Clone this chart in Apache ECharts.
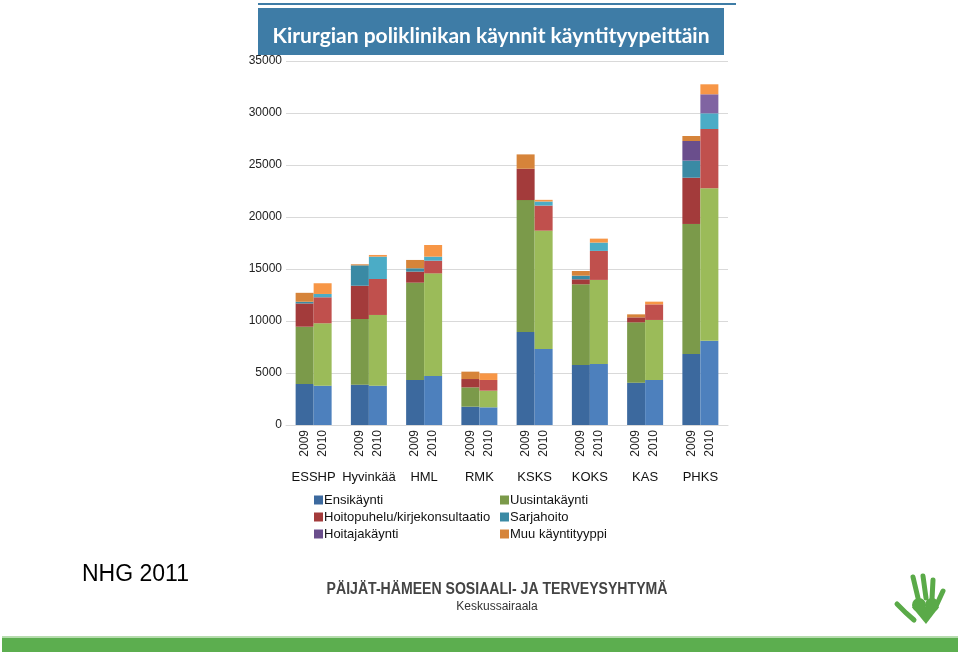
<!DOCTYPE html>
<html><head><meta charset="utf-8">
<script src="https://cdn.jsdelivr.net/npm/echarts@6/dist/echarts.min.js"></script>
<style>html,body{margin:0;padding:0;background:#fff}#c{width:960px;height:654px}</style>
</head><body><div id="c"></div><script>
const groups = ['ESSHP','Hyvinkää','HML','RMK','KSKS','KOKS','KAS','PHKS'];
const years = ['2009','2010'];
const types = ['Ensikäynti','Uusintakäynti','Hoitopuhelu/kirjekonsultaatio','Sarjahoito','Hoitajakäynti','Muu käyntityyppi'];
const yTicks = [0,5000,10000,15000,20000,25000,30000,35000];

const ensi2009    = [3940,3880,4330,1760,8940,5770,4070,6830];
const ensi2010    = [3780,3780,4710,1700,7310,5870,4330,8110];
const uusinta2009 = [5510,6310,9360,1860,12690,7760,5800,12500];
const uusinta2010 = [6000,6800,9870,1600,11380,8080,5770,14650];
const hoito2009   = [2240,3200,1060,800,3010,480,480,4450];
const hoito2010   = [2500,3460,1220,1030,2410,2790,1500,5700];
const sarja2009   = [160,1960,320,0,0,350,0,1640];
const sarja2010   = [320,2150,390,0,390,800,0,1510];
const hoitaja2009 = [0,0,0,0,0,0,0,1890];
const hoitaja2010 = [0,0,0,0,0,0,0,1830];
const muu2009     = [860,100,800,710,1380,450,290,480];
const muu2010     = [1030,160,1120,640,160,380,260,960];

const values = {
  '2009': [ensi2009, uusinta2009, hoito2009, sarja2009, hoitaja2009, muu2009],
  '2010': [ensi2010, uusinta2010, hoito2010, sarja2010, hoitaja2010, muu2010]
};
const colors = {
  '2009': ['#3c699e','#7b9a4a','#a33b3b','#3a8aa4','#6a4e8c','#d6843a'],
  '2010': ['#4d80bd','#9bbb59','#c0504d','#4bacc6','#8064a2','#f79646']
};
const FONT = "'Liberation Sans',Arial,sans-serif";

const series = [];
years.forEach(yr => {
  types.forEach((t, i) => {
    const s = {
      name: t, type: 'bar', stack: yr, barWidth: 18, barGap: '0%',
      data: values[yr][i],
      itemStyle: { color: colors[yr][i] },
      emphasis: { disabled: true }
    };
    if (i === 0) {
      s.label = { show: true, position: 'bottom', distance: 5, rotate: 90,
        align: 'right', verticalAlign: 'middle', formatter: yr,
        fontFamily: FONT, fontSize: 12, color: '#222' };
    }
    series.push(s);
  });
});

const legendBase = {
  orient: 'vertical', top: 487, itemWidth: 9, itemHeight: 9, itemGap: 1,
  icon: 'rect', selectedMode: false,
  textStyle: { fontFamily: FONT, fontSize: 13, lineHeight: 16, color: '#111', padding: [0,0,0,-4] }
};

const chart = echarts.init(document.getElementById('c'));
chart.setOption({
  animation: false,
  backgroundColor: '#fff',
  grid: { left: 286, width: 442, top: 61, height: 364 },
  xAxis: {
    type: 'category', data: groups,
    axisLine: { lineStyle: { color: '#d9d9d9' } },
    axisTick: { show: false },
    axisLabel: { interval: 0, margin: 46, fontFamily: FONT, fontSize: 13, color: '#111' }
  },
  yAxis: {
    type: 'value', min: 0, max: 35000, interval: 5000,
    axisLabel: { margin: 4, fontFamily: FONT, fontSize: 12, color: '#222',
      formatter: v => yTicks.includes(v) ? String(v) : '' },
    splitLine: { lineStyle: { color: '#d9d9d9' } },
    axisLine: { show: false }, axisTick: { show: false }
  },
  legend: [
    Object.assign({}, legendBase, { data: [types[0], types[2], types[4]], left: 309 }),
    Object.assign({}, legendBase, { data: [types[1], types[3], types[5]], left: 495 })
  ],
  series: series,
  graphic: [
    { type: 'rect', shape: { x: 258, y: 3, width: 478, height: 2 }, style: { fill: '#3e7ca6' } },
    { type: 'rect', shape: { x: 258, y: 8, width: 466, height: 47 }, style: { fill: '#3e7ca6' } },
    { type: 'text', x: 491, y: 36, style: { text: 'Kirurgian poliklinikan käynnit käyntityypeittäin',
      fill: '#fff', font: "bold 21px Lato, 'Open Sans', sans-serif", textAlign: 'center', textVerticalAlign: 'middle' } },
    { type: 'text', x: 82, y: 575, style: { text: 'NHG 2011', fill: '#000',
      font: "23px " + FONT, textAlign: 'left', textVerticalAlign: 'middle' } },
    { type: 'text', x: 497, y: 590, scaleX: 0.88,
      style: { text: 'PÄIJÄT-HÄMEEN SOSIAALI- JA TERVEYSYHTYMÄ', fill: '#444',
      font: "bold 16px " + FONT, textAlign: 'center', textVerticalAlign: 'middle' } },
    { type: 'text', x: 497, y: 607, style: { text: 'Keskussairaala', fill: '#333',
      font: "12px " + FONT, textAlign: 'center', textVerticalAlign: 'middle' } },
    { type: 'rect', shape: { x: 2, y: 638, width: 956, height: 14 }, style: { fill: '#5cae4f' } },
    { type: 'rect', shape: { x: 2, y: 636, width: 956, height: 2 }, style: { fill: '#b6dcae' } },
    { type: 'polyline', shape: { points: [[897,604],[906,613],[914,620]] }, style: { stroke: '#5aaa48', lineWidth: 5, lineCap: 'round', fill: null } },
    { type: 'line', shape: { x1: 913, y1: 577, x2: 918, y2: 598 }, style: { stroke: '#5aaa48', lineWidth: 5, lineCap: 'round' } },
    { type: 'line', shape: { x1: 923, y1: 576, x2: 926, y2: 598 }, style: { stroke: '#5aaa48', lineWidth: 5, lineCap: 'round' } },
    { type: 'line', shape: { x1: 933, y1: 580, x2: 932, y2: 599 }, style: { stroke: '#5aaa48', lineWidth: 5, lineCap: 'round' } },
    { type: 'line', shape: { x1: 943, y1: 591, x2: 937, y2: 604 }, style: { stroke: '#5aaa48', lineWidth: 5, lineCap: 'round' } },
    { type: 'circle', shape: { cx: 919, cy: 605, r: 7 }, style: { fill: '#5aaa48' } },
    { type: 'circle', shape: { cx: 932, cy: 605, r: 7 }, style: { fill: '#5aaa48' } },
    { type: 'polygon', shape: { points: [[912,607],[926,624],[939,607]] }, style: { fill: '#5aaa48' } }
  ]
});
</script></body></html>
